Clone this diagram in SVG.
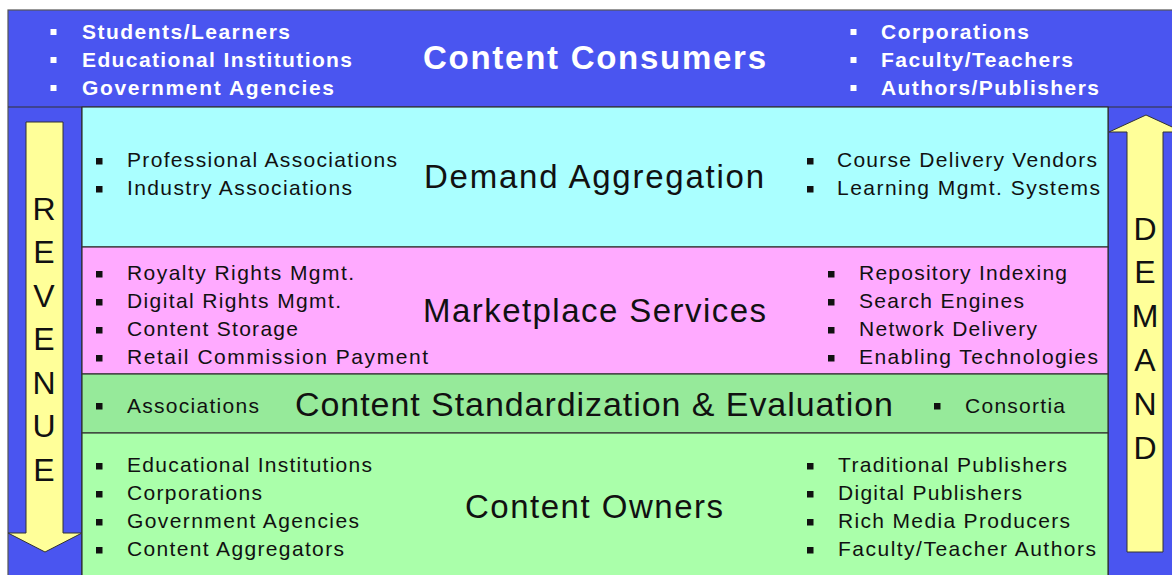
<svg xmlns="http://www.w3.org/2000/svg" width="1172" height="575" viewBox="0 0 1172 575">
<style>
.t{font-family:"Liberation Sans",Arial,sans-serif;font-size:21px;fill:#111}
.tw{font-family:"Liberation Sans",Arial,sans-serif;font-size:21px;font-weight:bold;fill:#fff}
.h{font-family:"Liberation Sans",Arial,sans-serif;font-size:33px;fill:#111}
.hw{font-family:"Liberation Sans",Arial,sans-serif;font-size:33px;font-weight:bold;fill:#fff}
.ar{font-family:"Liberation Sans",Arial,sans-serif;font-size:32px;fill:#111;text-anchor:middle}
.band{stroke:#333;stroke-width:1.2}
.bk{fill:#111}
.wh{fill:#fff}
.arrow{fill:#ffff99;stroke:#333;stroke-width:1}
</style>
<rect x="0" y="0" width="1172" height="575" fill="#fff"/>
<rect x="8" y="10" width="1170" height="570" fill="#4a55f0" stroke="#555" stroke-width="1.2"/>
<g id="consumers">
<rect class="wh" x="50.5" y="29" width="6" height="6"/>
<rect class="wh" x="50.5" y="57" width="6" height="6"/>
<rect class="wh" x="50.5" y="85" width="6" height="6"/>
<text class="tw" x="82" y="39" textLength="208" lengthAdjust="spacing">Students/Learners</text>
<text class="tw" x="82" y="67" textLength="270" lengthAdjust="spacing">Educational Institutions</text>
<text class="tw" x="82" y="95" textLength="252" lengthAdjust="spacing">Government Agencies</text>
<rect class="wh" x="850.5" y="29" width="6" height="6"/>
<rect class="wh" x="850.5" y="57" width="6" height="6"/>
<rect class="wh" x="850.5" y="85" width="6" height="6"/>
<text class="tw" x="881" y="39" textLength="148" lengthAdjust="spacing">Corporations</text>
<text class="tw" x="881" y="67" textLength="192" lengthAdjust="spacing">Faculty/Teachers</text>
<text class="tw" x="881" y="95" textLength="218" lengthAdjust="spacing">Authors/Publishers</text>
<text class="hw" x="423" y="69" textLength="343" lengthAdjust="spacing">Content Consumers</text>
</g>
<line x1="8" y1="107" x2="1172" y2="107" stroke="#333" stroke-width="1.2"/>
<line x1="82" y1="107" x2="82" y2="575" stroke="#222" stroke-width="1.2"/>
<line x1="1108" y1="107" x2="1108" y2="575" stroke="#222" stroke-width="1.2"/>
<g id="demand-aggregation">
<rect class="band" x="82" y="107" width="1026" height="140" fill="#aaffff"/>
<rect class="bk" x="96" y="158" width="6.5" height="6.5"/>
<rect class="bk" x="96" y="186" width="6.5" height="6.5"/>
<text class="t" x="127" y="167" textLength="270" lengthAdjust="spacing">Professional Associations</text>
<text class="t" x="127" y="195" textLength="225" lengthAdjust="spacing">Industry Associations</text>
<rect class="bk" x="807" y="158" width="6.5" height="6.5"/>
<rect class="bk" x="807" y="186" width="6.5" height="6.5"/>
<text class="t" x="837" y="167" textLength="260" lengthAdjust="spacing">Course Delivery Vendors</text>
<text class="t" x="837" y="195" textLength="263" lengthAdjust="spacing">Learning Mgmt. Systems</text>
<text class="h" x="424" y="188" textLength="340" lengthAdjust="spacing">Demand Aggregation</text>
</g>
<g id="marketplace">
<rect class="band" x="82" y="247" width="1026" height="127" fill="#ffaaff"/>
<rect class="bk" x="96" y="271" width="6.5" height="6.5"/>
<rect class="bk" x="96" y="299" width="6.5" height="6.5"/>
<rect class="bk" x="96" y="327" width="6.5" height="6.5"/>
<rect class="bk" x="96" y="355" width="6.5" height="6.5"/>
<text class="t" x="127" y="280" textLength="227" lengthAdjust="spacing">Royalty Rights Mgmt.</text>
<text class="t" x="127" y="308" textLength="214" lengthAdjust="spacing">Digital Rights Mgmt.</text>
<text class="t" x="127" y="336" textLength="171" lengthAdjust="spacing">Content Storage</text>
<text class="t" x="127" y="364" textLength="301" lengthAdjust="spacing">Retail Commission Payment</text>
<rect class="bk" x="828" y="271" width="6.5" height="6.5"/>
<rect class="bk" x="828" y="299" width="6.5" height="6.5"/>
<rect class="bk" x="828" y="327" width="6.5" height="6.5"/>
<rect class="bk" x="828" y="355" width="6.5" height="6.5"/>
<text class="t" x="859" y="280" textLength="208" lengthAdjust="spacing">Repository Indexing</text>
<text class="t" x="859" y="308" textLength="165" lengthAdjust="spacing">Search Engines</text>
<text class="t" x="859" y="336" textLength="178" lengthAdjust="spacing">Network Delivery</text>
<text class="t" x="859" y="364" textLength="239" lengthAdjust="spacing">Enabling Technologies</text>
<text class="h" x="423" y="322" textLength="343" lengthAdjust="spacing">Marketplace Services</text>
</g>
<g id="standardization">
<rect class="band" x="82" y="374" width="1026" height="59" fill="#96ea9a"/>
<rect class="bk" x="96" y="403" width="6.5" height="6.5"/>
<text class="t" x="127" y="413" textLength="132" lengthAdjust="spacing">Associations</text>
<rect class="bk" x="934" y="403" width="6.5" height="6.5"/>
<text class="t" x="965" y="413" textLength="100" lengthAdjust="spacing">Consortia</text>
<text class="h" style="font-size:34px" x="295" y="416" textLength="598" lengthAdjust="spacing">Content Standardization &amp; Evaluation</text>
</g>
<g id="owners">
<rect class="band" x="82" y="433" width="1026" height="150" fill="#aaffaa"/>
<rect class="bk" x="96" y="463" width="6.5" height="6.5"/>
<rect class="bk" x="96" y="491" width="6.5" height="6.5"/>
<rect class="bk" x="96" y="519" width="6.5" height="6.5"/>
<rect class="bk" x="96" y="547" width="6.5" height="6.5"/>
<text class="t" x="127" y="472" textLength="245" lengthAdjust="spacing">Educational Institutions</text>
<text class="t" x="127" y="500" textLength="135" lengthAdjust="spacing">Corporations</text>
<text class="t" x="127" y="528" textLength="232" lengthAdjust="spacing">Government Agencies</text>
<text class="t" x="127" y="556" textLength="217" lengthAdjust="spacing">Content Aggregators</text>
<rect class="bk" x="807" y="463" width="6.5" height="6.5"/>
<rect class="bk" x="807" y="491" width="6.5" height="6.5"/>
<rect class="bk" x="807" y="519" width="6.5" height="6.5"/>
<rect class="bk" x="807" y="547" width="6.5" height="6.5"/>
<text class="t" x="838" y="472" textLength="229" lengthAdjust="spacing">Traditional Publishers</text>
<text class="t" x="838" y="500" textLength="184" lengthAdjust="spacing">Digital Publishers</text>
<text class="t" x="838" y="528" textLength="232" lengthAdjust="spacing">Rich Media Producers</text>
<text class="t" x="838" y="556" textLength="258" lengthAdjust="spacing">Faculty/Teacher Authors</text>
<text class="h" x="465" y="518" textLength="258" lengthAdjust="spacing">Content Owners</text>
</g>
<g id="connectors">
<g id="revenue-arrow">
<polygon class="arrow" points="26,122 63,122 63,533 82,533 45,552 8,533 26,533"/>
<text class="ar" x="44" y="219.5">R</text>
<text class="ar" x="44" y="263">E</text>
<text class="ar" x="44" y="306.5">V</text>
<text class="ar" x="44" y="350">E</text>
<text class="ar" x="44" y="393.5">N</text>
<text class="ar" x="44" y="437">U</text>
<text class="ar" x="44" y="480.5">E</text>
</g>
<g id="demand-arrow">
<polygon class="arrow" points="1127,552 1163,552 1163,132 1183,132 1146,115 1109,132 1127,132"/>
<text class="ar" x="1145" y="239.5">D</text>
<text class="ar" x="1145" y="283.3">E</text>
<text class="ar" x="1145" y="327">M</text>
<text class="ar" x="1145" y="371">A</text>
<text class="ar" x="1145" y="414.7">N</text>
<text class="ar" x="1145" y="458.5">D</text>
</g>
</g>
</svg>
